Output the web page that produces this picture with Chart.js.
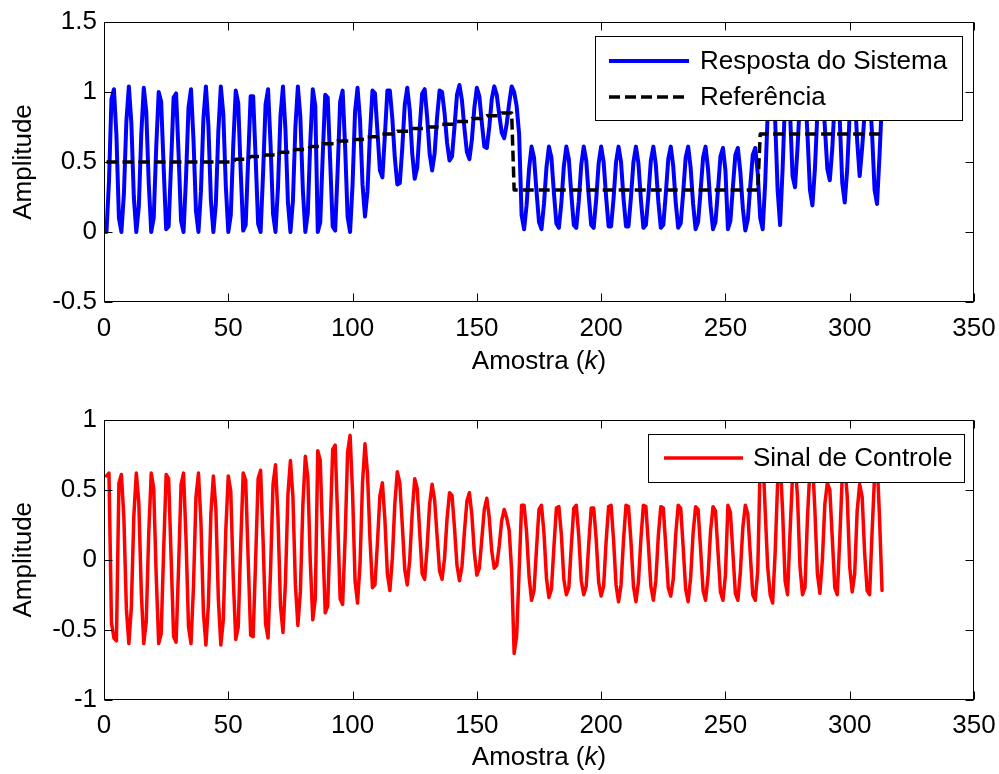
<!DOCTYPE html>
<html>
<head>
<meta charset="utf-8">
<script src="https://cdn.jsdelivr.net/npm/chart.js@4/dist/chart.umd.min.js"></script>
<style>
  body { margin: 0; background: #fff; }
  .panel { position: absolute; left: 0; width: 999px; height: 387px; }
</style>
</head>
<body>
<div class="panel" style="top:0"><canvas id="resp" width="999" height="387"></canvas></div>
<div class="panel" style="top:387px"><canvas id="ctrl" width="999" height="387"></canvas></div>
<script>
// ---- data (sample k = 1..313) ----
const respostaSistema = [
  0, 0.36, 0.95, 1.02, 0.69, 0.10, 0, 0.27, 0.79, 1.04,
  0.78, 0.25, 0, 0.18, 0.70, 1.03, 0.86, 0.35, 0, 0.10,
  0.60, 1.00, 0.93, 0.46, 0.02, 0.04, 0.49, 0.96, 0.99, 0.56,
  0.08, 0, 0.39, 0.89, 1.02, 0.66, 0.15, 0, 0.29, 0.81,
  1.04, 0.76, 0.23, 0, 0.20, 0.72, 1.04, 0.84, 0.33, 0,
  0.12, 0.62, 1.01, 0.92, 0.43, 0.01, 0.05, 0.52, 0.97, 0.97,
  0.53, 0.06, 0, 0.42, 0.91, 1.02, 0.63, 0.13, 0, 0.32,
  0.83, 1.04, 0.73, 0.21, 0, 0.22, 0.75, 1.04, 0.82, 0.30,
  0, 0.14, 0.65, 1.02, 0.90,
  0, 0.07, 0.55, 0.98,
  0.96, 0.50, 0.04, 0.01, 0.44, 0.93, 1.01, 0.61, 0.11, 0,
  0.34, 0.86, 1.03, 0.80, 0.34, 0.11, 0.29, 0.70, 1.01, 0.99,
  0.72, 0.44, 0.39, 0.69, 1.01, 1.01, 0.81, 0.53, 0.34, 0.35,
  0.60, 0.91, 1.03, 0.87, 0.56, 0.38, 0.46, 0.74, 0.99, 1.02,
  0.82, 0.56, 0.44, 0.56, 0.82, 1.01, 1.00, 0.85, 0.64, 0.51,
  0.54, 0.75, 0.98, 1.05, 0.94, 0.74, 0.57, 0.52, 0.66, 0.89,
  1.03, 0.97, 0.78, 0.61, 0.60, 0.75, 0.95, 1.04, 0.98, 0.84,
  0.71, 0.67, 0.77, 0.92, 1.04, 1.00, 0.90, 0.70, 0.12, 0.02,
  0.19, 0.45, 0.61, 0.53, 0.29, 0.07, 0.02, 0.20, 0.46, 0.61,
  0.53, 0.28, 0.06, 0.03, 0.21, 0.47, 0.61, 0.52, 0.27, 0.05,
  0.03, 0.22, 0.48, 0.61, 0.51, 0.26, 0.05, 0.03, 0.23, 0.49,
  0.61, 0.50, 0.25, 0.04, 0.04, 0.24, 0.50, 0.61, 0.50, 0.24,
  0.04, 0.04, 0.25, 0.50, 0.61, 0.49, 0.23, 0.03, 0.05, 0.26,
  0.51, 0.61, 0.48, 0.22, 0.03, 0.05, 0.27, 0.52, 0.61, 0.47,
  0.21, 0.03, 0.06, 0.28, 0.53, 0.61, 0.46, 0.20, 0.02, 0.07,
  0.29, 0.53, 0.61, 0.45, 0.19, 0.02, 0.07, 0.30, 0.54, 0.60,
  0.44,
  0.02, 0.08, 0.32, 0.55, 0.60, 0.43, 0.17, 0.01,
  0.09, 0.33, 0.55, 0.60, 0.42, 0.10, 0.02, 0.35, 0.85, 1.10,
  1.15, 0.80, 0.30, 0.05, 0.45, 0.95, 1.12, 0.85, 0.40, 0.32,
  0.60, 0.95, 1.05, 1.03, 0.70, 0.30, 0.19, 0.45, 0.85, 1.08,
  1.05, 0.75, 0.45, 0.37, 0.60, 0.95, 1.02, 0.80, 0.35, 0.21,
  0.45, 0.85, 1.08, 1.00, 0.65, 0.40, 0.60, 0.85, 1.00, 1.00,
  0.70, 0.30, 0.20, 0.55, 0.95
];

const sinalControle = [
  0.60, 0.62, -0.45, -0.56, -0.58, 0.55, 0.61, 0.30, -0.35, -0.60,
  -0.34, 0.31, 0.62, 0.41, -0.23, -0.60, -0.44, 0.19, 0.62, 0.51,
  -0.11, -0.60, -0.53, 0.07, 0.61, 0.58, 0.02, -0.55, -0.59, -0.06,
  0.54, 0.62, 0.15, -0.48, -0.60, -0.19, 0.45, 0.62, 0.27, -0.38,
  -0.61, -0.32, 0.33, 0.60, 0.37, -0.28, -0.61, -0.43, 0.21, 0.60,
  0.49, -0.13, -0.57, -0.48, 0.11, 0.62, 0.57, 0.00, -0.54, -0.55,
  0.00, 0.58, 0.64, 0.14, -0.46, -0.56, -0.08, 0.54, 0.68, 0.30,
  -0.33, -0.52, -0.16, 0.47, 0.71, 0.45, -0.18, -0.47, -0.23, 0.39,
  0.74, 0.59, -0.02, -0.43, -0.28,
  0.78, 0.71, 0.14, -0.38,
  -0.33, 0.23, 0.79, 0.82, 0.30, -0.28, -0.32, 0.15, 0.77, 0.89,
  0.48, -0.15, -0.31, -0.03, 0.55, 0.83, 0.62, 0.15, -0.20, -0.18,
  0.12, 0.46, 0.55, 0.29, -0.10, -0.22, 0.01, 0.40, 0.63, 0.55,
  0.25, -0.07, -0.18, 0.00, 0.34, 0.58, 0.51, 0.20, -0.10, -0.14,
  0.09, 0.40, 0.54, 0.43, 0.17, -0.08, -0.14, 0.01, 0.29, 0.48,
  0.46, 0.23, -0.04, -0.15, -0.05, 0.20, 0.42, 0.48, 0.32, 0.05,
  -0.11, -0.06, 0.15, 0.36, 0.44, 0.30, 0.06, -0.06, -0.04, 0.10,
  0.28, 0.36, 0.30, 0.21, -0.08, -0.67, -0.55, -0.08, 0.39, 0.39,
  0.20, -0.12, -0.29, -0.22, 0.08, 0.36, 0.39, 0.19, -0.13, -0.27,
  -0.21, 0.09, 0.37, 0.38, 0.18, -0.14, -0.25, -0.20, 0.10, 0.37,
  0.39, 0.17, -0.15, -0.25, -0.19, 0.11, 0.37, 0.37, 0.15, -0.16,
  -0.26, -0.19, 0.13, 0.38, 0.39, 0.14, -0.18, -0.30, -0.18, 0.14,
  0.39, 0.38, 0.13, -0.19, -0.30, -0.16, 0.15, 0.39, 0.38, 0.11,
  -0.19, -0.29, -0.15, 0.17, 0.38, 0.37, 0.10, -0.20, -0.26, -0.14,
  0.18, 0.39, 0.37, 0.09, -0.21, -0.30, -0.13, 0.19, 0.38, 0.36,
  0.08, -0.22, -0.29, -0.12, 0.20, 0.38, 0.35, 0.06, -0.23, -0.29,
  -0.11,
  0.39, 0.34, 0.05, -0.24, -0.29, -0.09, 0.23, 0.39,
  0.33, 0.04, -0.25, -0.29, -0.08, 0.70, 0.78, 0.35, -0.05, -0.25,
  -0.31, 0.05, 0.55, 0.72, 0.35, -0.15, -0.25, 0.20, 0.60, 0.70,
  0.45, -0.05, -0.25, -0.20, 0.30, 0.65, 0.72, 0.35, -0.10, -0.24,
  0.00, 0.40, 0.55, 0.50, 0.15, -0.20, -0.25, 0.15, 0.60, 0.70,
  0.45, -0.05, -0.23, -0.10, 0.35, 0.54, 0.45, 0.05, -0.22, -0.25,
  0.20, 0.60, 0.72, 0.30, -0.22
];

// reference: staircase levels and how many samples each one lasts
const refLevel = [0.50, 0.52, 0.54, 0.55, 0.57, 0.59, 0.61, 0.63, 0.65, 0.66, 0.68,
                  0.70, 0.72, 0.74, 0.75, 0.77, 0.79, 0.81, 0.83, 0.85, 0.30, 0.70];
const refLen   = [52, 6, 6, 6, 6, 6, 5, 6, 6, 6, 6,
                  6, 6, 6, 6, 6, 6, 6, 6, 5, 99, 50];

const xTicks    = [0, 50, 100, 150, 200, 250, 300, 350];
const yTicksTop = [-0.5, 0, 0.5, 1, 1.5];
const yTicksBot = [-1, -0.5, 0, 0.5, 1];

// ---- helpers ----
const FONT = "'Liberation Sans', Arial, sans-serif";
const FS = 26;
const referencia = [];
refLevel.forEach((v, i) => { for (let j = 0; j < refLen[i]; j++) referencia.push(v); });
const toXY = arr => arr.map((v, i) => ({ x: i + 1, y: v }));

/* axes box, inward ticks on every side, legend and x title (italic k) */
const matlabAxes = {
  id: 'matlabAxes',
  afterDatasetsDraw(chart, args, o) {
    const { ctx, chartArea: a, scales } = chart;
    ctx.save();
    ctx.strokeStyle = '#000';
    ctx.lineWidth = 1;
    const tl = 8;
    const L = Math.round(a.left) + 0.5, R = Math.round(a.right) - 0.5;
    const T = Math.round(a.top) + 0.5, B = Math.round(a.bottom) - 0.5;
    ctx.beginPath();
    scales.x.ticks.forEach(t => {
      const px = Math.round(scales.x.getPixelForValue(t.value)) + 0.5;
      ctx.moveTo(px, B); ctx.lineTo(px, B - tl);
      ctx.moveTo(px, T); ctx.lineTo(px, T + tl);
    });
    scales.y.ticks.forEach(t => {
      const py = Math.round(scales.y.getPixelForValue(t.value)) + 0.5;
      ctx.moveTo(L, py); ctx.lineTo(L + tl, py);
      ctx.moveTo(R, py); ctx.lineTo(R - tl, py);
    });
    ctx.stroke();
    ctx.strokeRect(L, T, R - L, B - T);

    // legend box
    const lg = o.legend;
    ctx.fillStyle = '#fff';
    ctx.fillRect(lg.x, lg.y, lg.w, lg.h);
    ctx.strokeRect(lg.x + 0.5, lg.y + 0.5, lg.w, lg.h);
    ctx.font = FS + 'px ' + FONT;
    ctx.textBaseline = 'middle';
    ctx.textAlign = 'left';
    lg.items.forEach(it => {
      ctx.beginPath();
      ctx.strokeStyle = it.color;
      ctx.lineWidth = it.width;
      ctx.setLineDash(it.dash || []);
      ctx.moveTo(lg.x + lg.lineFrom, it.y);
      ctx.lineTo(lg.x + lg.lineTo, it.y);
      ctx.stroke();
      ctx.setLineDash([]);
      ctx.fillStyle = '#000';
      ctx.fillText(it.text, lg.x + lg.textAt, it.y + 1);
    });

    // x title: Amostra (k)
    const cx = (a.left + a.right) / 2, ty = a.bottom + o.titleOffset;
    const p1 = 'Amostra (', p2 = 'k', p3 = ')';
    const fN = FS + 'px ' + FONT, fI = 'italic ' + FS + 'px ' + FONT;
    ctx.font = fN; const w1 = ctx.measureText(p1).width, w3 = ctx.measureText(p3).width;
    ctx.font = fI; const w2 = ctx.measureText(p2).width;
    const x0 = cx - (w1 + w2 + w3) / 2;
    ctx.fillStyle = '#000';
    ctx.font = fN; ctx.fillText(p1, x0, ty);
    ctx.font = fI; ctx.fillText(p2, x0 + w1, ty);
    ctx.font = fN; ctx.fillText(p3, x0 + w1 + w2, ty);
    ctx.restore();
  }
};

function axesOptions(yMin, yMax, yTicks, padTop, xHeight, legend, titleOffset) {
  return {
    responsive: false,
    animation: false,
    devicePixelRatio: 1,
    layout: { padding: { left: 0, right: 25, top: padTop, bottom: 0 } },
    elements: { line: { borderJoinStyle: 'round', borderCapStyle: 'round' } },
    plugins: {
      legend: { display: false },
      tooltip: { enabled: false },
      matlabAxes: { legend, titleOffset }
    },
    scales: {
      x: {
        type: 'linear', min: 0, max: 350,
        afterBuildTicks: s => { s.ticks = xTicks.map(v => ({ value: v })); },
        afterFit: s => { s.height = xHeight; s.paddingLeft = 0; s.paddingRight = 0; },
        grid: { display: false, drawTicks: false },
        border: { display: false },
        ticks: { color: '#000', font: { family: FONT, size: FS }, padding: 11, maxRotation: 0,
                 callback: v => String(v) }
      },
      y: {
        type: 'linear', min: yMin, max: yMax,
        afterBuildTicks: s => { s.ticks = yTicks.map(v => ({ value: v })); },
        afterFit: s => { s.width = 104; s.paddingTop = 0; s.paddingBottom = 0; },
        grid: { display: false, drawTicks: false },
        border: { display: false },
        title: { display: true, text: 'Amplitude', color: '#000',
                 font: { family: FONT, size: FS }, padding: { top: 8, bottom: 0 } },
        ticks: { color: '#000', font: { family: FONT, size: FS }, padding: 7,
                 callback: v => String(v) }
      }
    }
  };
}

new Chart(document.getElementById('resp'), {
  type: 'line',
  data: {
    datasets: [
      { label: 'Resposta do Sistema', data: toXY(respostaSistema), borderColor: '#0000ff',
        borderWidth: 4, pointRadius: 0, tension: 0, order: 2 },
      { label: 'Referência', data: toXY(referencia), borderColor: '#000000',
        borderWidth: 3.5, borderDash: [11, 5], borderCapStyle: 'butt',
        pointRadius: 0, tension: 0, order: 1 }
    ]
  },
  options: axesOptions(-0.5, 1.5, yTicksTop, 22, 85, {
    x: 595, y: 36, w: 367, h: 84, lineFrom: 14, lineTo: 94, textAt: 105,
    items: [
      { text: 'Resposta do Sistema', color: '#0000ff', width: 4, y: 61 },
      { text: 'Referência', color: '#000000', width: 3.5, dash: [11, 5], y: 97 }
    ]
  }, 60),
  plugins: [matlabAxes]
});

new Chart(document.getElementById('ctrl'), {
  type: 'line',
  data: {
    datasets: [
      { label: 'Sinal de Controle', data: toXY(sinalControle), borderColor: '#ff0000',
        borderWidth: 3.5, pointRadius: 0, tension: 0 }
    ]
  },
  options: axesOptions(-1, 1, yTicksBot, 33, 74.5, {
    x: 648, y: 47, w: 316, h: 48, lineFrom: 16, lineTo: 95, textAt: 105,
    items: [
      { text: 'Sinal de Controle', color: '#ff0000', width: 3.5, y: 71 }
    ]
  }, 58),
  plugins: [matlabAxes]
});
</script>
</body>
</html>
